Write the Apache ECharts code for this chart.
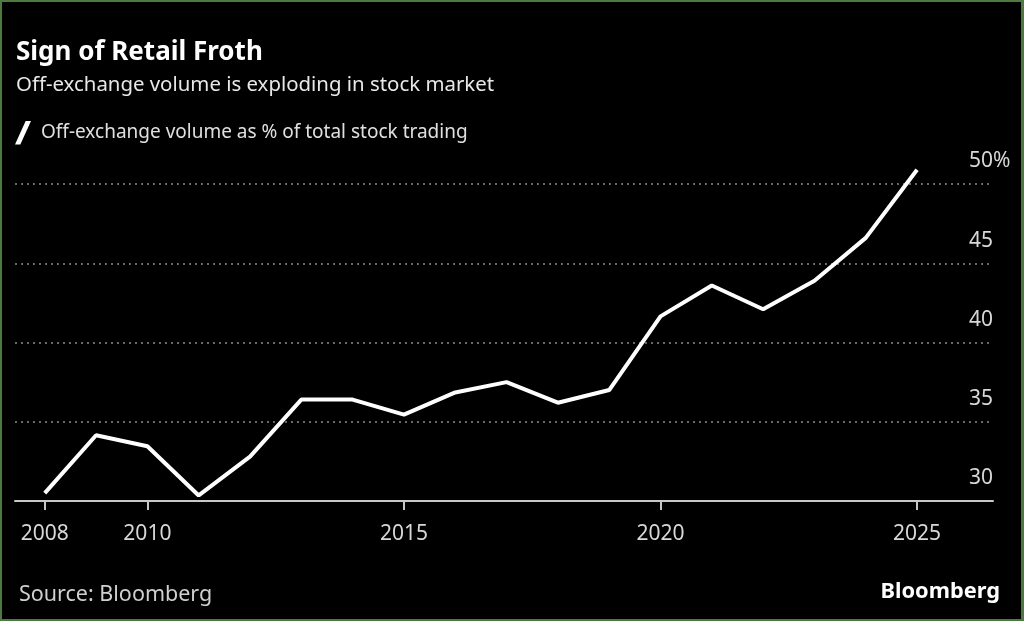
<!DOCTYPE html>
<html>
<head>
<meta charset="utf-8">
<style>
  html, body { margin: 0; padding: 0; background: #000; }
  #main { width: 1024px; height: 621px; }
  .frame {
    position: absolute; left: 0; top: 0; width: 1024px; height: 621px;
    box-sizing: border-box; border: 2px solid #4d7a40; border-right-width: 3px;
    pointer-events: none;
  }
</style>
<script src="https://cdn.jsdelivr.net/npm/echarts@6/dist/echarts.min.js"></script>
</head>
<body>
<div id="main"></div>
<div class="frame"></div>
<script>
// off-exchange volume, % of total stock trading
const years = [2008, 2009, 2010, 2011, 2012, 2013, 2014, 2015, 2016, 2017, 2018, 2019, 2020, 2021, 2022, 2023, 2024, 2025]
const offExchange = [30.5, 34.15, 33.45, 30.35, 32.8, 36.4, 36.4, 35.45, 36.85, 37.5, 36.2, 37.0, 41.65, 43.6, 42.1, 43.9, 46.6, 50.9]
const yearTicks = [2008, 2010, 2015, 2020, 2025]
const seriesName = 'Off-exchange volume as % of total stock trading'

const font = '"Noto Sans", sans-serif'
const myChart = echarts.init(document.getElementById('main'))

const option = {
  backgroundColor: '#000',
  animation: false,
  title: [
    {
      text: 'Sign of Retail Froth',
      left: 11,
      top: 33,
      textStyle: { color: '#fff', fontFamily: font, fontWeight: 'bold', fontSize: 26, lineHeight: 30 }
    },
    {
      text: 'Off-exchange volume is exploding in stock market',
      left: 11,
      top: 67,
      textStyle: { color: '#e8e8e8', fontFamily: font, fontWeight: 'normal', fontSize: 20.4, lineHeight: 26 }
    },
    {
      text: 'Source: Bloomberg',
      left: 14,
      top: 577,
      textStyle: { color: '#cfcfcf', fontFamily: font, fontWeight: 'normal', fontSize: 21.5, lineHeight: 26 }
    },
    {
      text: 'Bloomberg',
      right: 19,
      top: 574,
      textStyle: { color: '#fff', fontFamily: font, fontWeight: 'bold', fontSize: 21.8, lineHeight: 26 }
    }
  ],
  legend: {
    left: 10,
    top: 116,
    data: [seriesName],
    icon: 'path://M10,0 L15,0 L5,22 L0,22 Z',
    itemWidth: 16,
    itemHeight: 24,
    itemGap: 0,
    textStyle: { color: '#e0e0e0', fontFamily: font, fontSize: 19, padding: [0, 0, 0, 5] }
  },
  grid: {
    left: 15,
    right: 31,
    top: 184,
    bottom: 120
  },
  xAxis: {
    type: 'value',
    min: 2007.42,
    max: 2026.48,
    splitLine: { show: false },
    axisLine: { show: true, lineStyle: { color: '#c8c8c8', width: 2 } },
    axisTick: {
      show: true,
      length: 9,
      customValues: yearTicks,
      lineStyle: { color: '#c8c8c8', width: 2 }
    },
    axisLabel: {
      customValues: yearTicks,
      margin: 23,
      color: '#d8d8d8',
      fontFamily: font,
      fontSize: 21,
      formatter: v => String(v)
    }
  },
  yAxis: {
    type: 'value',
    position: 'right',
    min: 30,
    max: 50,
    interval: 5,
    axisLine: { show: false },
    axisTick: { show: false },
    axisLabel: {
      inside: true,
      align: 'left',
      verticalAlign: 'bottom',
      margin: 24,
      padding: [0, 0, 12, 0],
      lineHeight: 21,
      color: '#d8d8d8',
      fontFamily: font,
      fontSize: 21,
      formatter: v => (v === 50 ? '50%' : String(v))
    },
    splitLine: {
      lineStyle: { color: '#8a8a8a', type: [2, 4], width: 1.5 }
    }
  },
  series: [
    {
      name: seriesName,
      type: 'line',
      data: years.map((y, i) => [y, offExchange[i]]),
      symbol: 'none',
      clip: false,
      color: '#fff',
      lineStyle: { color: '#fff', width: 4 }
    }
  ]
}
myChart.setOption(option)
</script>
</body>
</html>
